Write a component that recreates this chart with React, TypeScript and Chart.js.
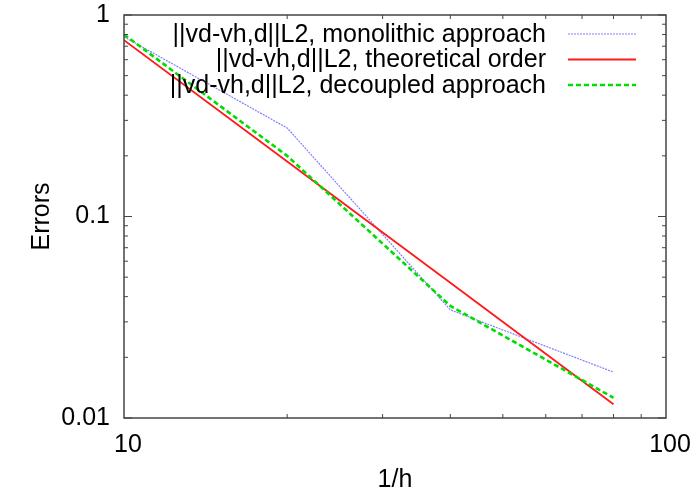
import React, { useEffect, useRef } from "react";
import { Chart, registerables } from "chart.js";

Chart.register(...registerables);

// ---- data ----
const hValues = [10, 20, 40, 80];
const monolithic = [0.78, 0.275, 0.0344, 0.0169];
const theoretical = [0.75, 0.1875, 0.0469, 0.0117];
const decoupled = [0.8, 0.2, 0.036, 0.0126];

const xTickValues = [10, 100];
const yTickValues = [0.01, 0.1, 1];
const xMinorTicks = [20, 30, 40, 50, 60, 70, 80, 90];
const yMinorTicks = [0.02, 0.03, 0.04, 0.05, 0.06, 0.07, 0.08, 0.09, 0.2, 0.3, 0.4, 0.5, 0.6, 0.7, 0.8, 0.9];

const seriesLabels = [
  "||vd-vh,d||L2, monolithic approach",
  "||vd-vh,d||L2, theoretical order",
  "||vd-vh,d||L2, decoupled approach",
];
const xTitle = "1/h";
const yTitle = "Errors";

const FONT = "'Liberation Sans', Arial, Helvetica, sans-serif";
const FS = 25;

const styles = [
  { color: "#8080ff", width: 1.2, dash: [2, 1] },
  { color: "#ff1a1a", width: 1.8, dash: [] as number[] },
  { color: "#00dd00", width: 2.6, dash: [5, 3] },
];

const framePlugin = {
  id: "gnuplotFrame",
  afterDatasetsDraw(chart: any) {
    const { ctx, chartArea: a, scales } = chart;
    const xs = scales.x;
    const ys = scales.y;
    ctx.save();
    ctx.strokeStyle = "#444";
    ctx.lineWidth = 1.5;
    ctx.setLineDash([]);
    ctx.strokeRect(a.left, a.top, a.right - a.left, a.bottom - a.top);
    ctx.lineWidth = 1;
    const minor = 4;
    const major = 8;
    ctx.beginPath();
    xMinorTicks.forEach((v) => {
      const px = xs.getPixelForValue(v);
      ctx.moveTo(px, a.bottom);
      ctx.lineTo(px, a.bottom - minor);
      ctx.moveTo(px, a.top);
      ctx.lineTo(px, a.top + minor);
    });
    yMinorTicks.forEach((v) => {
      const py = ys.getPixelForValue(v);
      ctx.moveTo(a.left, py);
      ctx.lineTo(a.left + minor, py);
      ctx.moveTo(a.right, py);
      ctx.lineTo(a.right - minor, py);
    });
    yTickValues.forEach((v) => {
      const py = ys.getPixelForValue(v);
      ctx.moveTo(a.left, py);
      ctx.lineTo(a.left + major, py);
      ctx.moveTo(a.right, py);
      ctx.lineTo(a.right - major, py);
    });
    ctx.stroke();

    // legend (gnuplot style: right-aligned text, sample line at right)
    ctx.font = `${FS}px ${FONT}`;
    ctx.fillStyle = "#000";
    ctx.textAlign = "right";
    ctx.textBaseline = "middle";
    const textRight = a.right - 120;
    const lineStart = a.right - 98;
    const lineEnd = a.right - 30;
    seriesLabels.forEach((label, i) => {
      const y = a.top + 19 + i * 25.5;
      ctx.fillText(label, textRight, y + 1);
      const s = styles[i];
      ctx.strokeStyle = s.color;
      ctx.lineWidth = s.width;
      ctx.setLineDash(s.dash);
      ctx.beginPath();
      ctx.moveTo(lineStart, y);
      ctx.lineTo(lineEnd, y);
      ctx.stroke();
    });
    ctx.restore();
  },
};

export default function App() {
  const canvasRef = useRef<HTMLCanvasElement | null>(null);

  useEffect(() => {
    const canvas = canvasRef.current;
    if (!canvas) return;
    const series = [monolithic, theoretical, decoupled];
    const chart = new Chart(canvas, {
      type: "line",
      data: {
        datasets: series.map((vals, i) => ({
          label: seriesLabels[i],
          data: hValues.map((h, j) => ({ x: h, y: vals[j] })),
          borderColor: styles[i].color,
          borderWidth: styles[i].width,
          borderDash: styles[i].dash,
          pointRadius: 0,
          fill: false,
          tension: 0,
          order: 3 - i,
        })),
      },
      options: {
        animation: false,
        responsive: false,
        maintainAspectRatio: false,
        layout: { padding: { top: 15, right: 26, left: 0, bottom: 0 } },
        plugins: {
          legend: { display: false },
          tooltip: { enabled: false },
        },
        scales: {
          x: {
            type: "logarithmic",
            min: 10,
            max: 100,
            grid: { display: false, drawTicks: false },
            border: { display: false },
            afterBuildTicks: (scale: any) => {
              scale.ticks = xTickValues.map((v) => ({ value: v }));
            },
            afterFit: (scale: any) => {
              scale.height = 80;
              scale.paddingLeft = 0;
              scale.paddingRight = 0;
              scale.paddingTop = 0;
              scale.paddingBottom = 0;
            },
            ticks: {
              color: "#000",
              font: { family: FONT, size: FS },
              padding: 12,
              labelOffset: 4,
              maxRotation: 0,
              autoSkip: false,
              callback: (v: any) => String(v),
            },
            title: {
              display: true,
              text: xTitle,
              color: "#000",
              font: { family: FONT, size: FS },
              padding: { top: 0, bottom: 3 },
            },
          },
          y: {
            type: "logarithmic",
            min: 0.01,
            max: 1,
            grid: { display: false, drawTicks: false },
            border: { display: false },
            afterBuildTicks: (scale: any) => {
              scale.ticks = yTickValues.map((v) => ({ value: v }));
            },
            afterFit: (scale: any) => {
              scale.width = 124;
              scale.paddingLeft = 0;
              scale.paddingRight = 0;
              scale.paddingTop = 0;
              scale.paddingBottom = 0;
            },
            ticks: {
              color: "#000",
              font: { family: FONT, size: FS },
              padding: 14,
              autoSkip: false,
              callback: (v: any) => String(v),
            },
            title: {
              display: true,
              text: yTitle,
              color: "#000",
              font: { family: FONT, size: FS },
              padding: { top: 27, bottom: 0 },
            },
          },
        },
      },
      plugins: [framePlugin],
    });
    return () => chart.destroy();
  }, []);

  return (
    <div style={{ position: "absolute", left: 0, top: 0, width: 692, height: 498, background: "#fff" }}>
      <canvas ref={canvasRef} width={692} height={498} />
    </div>
  );
}
